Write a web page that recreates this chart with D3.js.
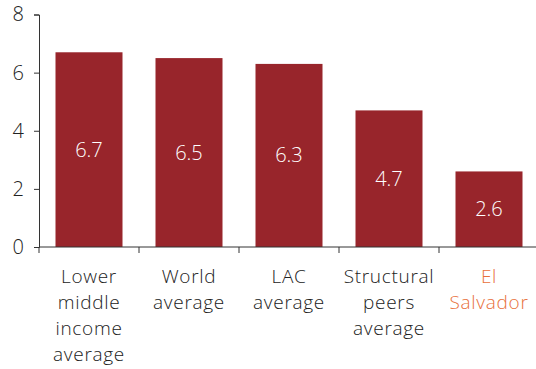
<!DOCTYPE html>
<html lang="en">
<head>
<meta charset="UTF-8">
<script src="https://d3js.org/d3.v7.min.js"></script>
<style>
  body { margin: 0; background: #fff; }
  text { font-family: "Open Sans", Lato, sans-serif; font-weight: 300; }
</style>
</head>
<body>
<svg id="chart"></svg>
<script>
  // data
  var categories = [
    ["Lower", "middle", "income", "average"],
    ["World", "average"],
    ["LAC", "average"],
    ["Structural", "peers", "average"],
    ["El", "Salvador"]
  ];
  var values = [6.7, 6.5, 6.3, 4.7, 2.6];
  var yTicks = [0, 2, 4, 6, 8];

  var W = 536, H = 369;
  var margin = { top: 14.5, left: 39, bottom: 122 };
  var width = 500, height = H - margin.top - margin.bottom;

  var svg = d3.select("#chart").attr("width", W).attr("height", H)
    .append("g")
    .attr("transform", "translate(" + margin.left + "," + margin.top + ")");

  var x = d3.scaleBand()
    .domain(d3.range(values.length))
    .range([0, width])
    .paddingInner(0.33)
    .paddingOuter(0.165);

  var y = d3.scaleLinear().domain([0, 8]).range([height, 0]);

  // bars
  svg.selectAll("rect.bar")
    .data(values)
    .enter()
    .append("rect")
    .attr("class", "bar")
    .attr("x", function (d, i) { return x(i); })
    .attr("y", function (d) { return y(d); })
    .attr("width", x.bandwidth())
    .attr("height", function (d) { return height - y(d); })
    .attr("fill", "#98252b");

  // value labels
  svg.selectAll("text.val")
    .data(values)
    .enter()
    .append("text")
    .attr("class", "val")
    .attr("x", function (d, i) { return x(i) + x.bandwidth() / 2; })
    .attr("y", function (d) { return (y(d) + height) / 2 + 7; })
    .attr("text-anchor", "middle")
    .attr("fill", "#fff")
    .style("font-size", "20px")
    .text(function (d) { return d.toFixed(1); });

  // y axis
  var yAxis = svg.append("g")
    .call(d3.axisLeft(y).tickValues(yTicks).tickSize(5).tickPadding(10));
  yAxis.select(".domain").attr("stroke", "#333");
  yAxis.selectAll(".tick line").attr("stroke", "#333");
  yAxis.selectAll(".tick text")
    .attr("fill", "#222")
    .style("font-size", "20px")
    .style("font-family", "'Open Sans', sans-serif");

  // x axis (ticks between bars)
  var xAxisG = svg.append("g").attr("transform", "translate(0," + height + ")");
  xAxisG.append("line")
    .attr("x1", 0).attr("x2", width)
    .attr("stroke", "#333");
  xAxisG.selectAll("line.tk")
    .data(d3.range(values.length + 1))
    .enter()
    .append("line")
    .attr("class", "tk")
    .attr("x1", function (d) { return d * x.step(); })
    .attr("x2", function (d) { return d * x.step(); })
    .attr("y1", 0).attr("y2", 6)
    .attr("stroke", "#333");

  // category labels
  var labels = xAxisG.selectAll("text.cat")
    .data(categories)
    .enter()
    .append("text")
    .attr("class", "cat")
    .attr("text-anchor", "middle")
    .attr("fill", function (d, i) { return i === categories.length - 1 ? "#e8703a" : "#222"; })
    .style("font-size", "19px")
    .style("letter-spacing", "0.7px");

  labels.selectAll("tspan")
    .data(function (d, i) { return d.map(function (s) { return { s: s, i: i }; }); })
    .enter()
    .append("tspan")
    .attr("x", function (d) { return x(d.i) + x.bandwidth() / 2; })
    .attr("y", function (d, j) { return 36 + j * 26; })
    .text(function (d) { return d.s; });
</script>
</body>
</html>
